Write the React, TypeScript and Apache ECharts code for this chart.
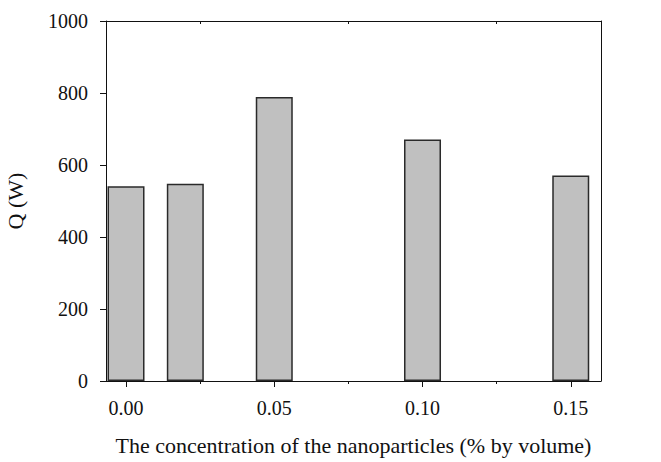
import React, { useEffect, useRef } from "react";
import * as echarts from "echarts";

const concentrations = [0.0, 0.02, 0.05, 0.1, 0.15];
const heatTransfer = [541, 548, 789, 671, 571];
const xLabelValues = [0, 0.05, 0.1, 0.15];
const xMinorTicks = [0.025, 0.075, 0.125];
const yTicks = [0, 200, 400, 600, 800, 1000];

const FONT = "'Liberation Serif', 'Times New Roman', serif";

export default function App() {
  const ref = useRef<HTMLDivElement>(null);
  useEffect(() => {
    if (!ref.current) return;
    const chart = echarts.init(ref.current, null, { renderer: "svg" });
    const xMin = -0.00675;
    const xMax = 0.1602;
    chart.setOption({
      animation: false,
      backgroundColor: "#ffffff",
      textStyle: { fontFamily: FONT },
      grid: {
        left: 106,
        right: 60,
        top: 21,
        bottom: 81,
        containLabel: false,
        outerBoundsMode: "none",
      },
      xAxis: [
        {
          type: "value",
          position: "bottom",
          min: xMin,
          max: xMax,
          name: "The concentration of the nanoparticles (% by volume)",
          nameLocation: "middle",
          nameGap: 53,
          nameTextStyle: { fontFamily: FONT, fontSize: 22, color: "#111" },
          axisLine: { show: true, onZero: false, lineStyle: { color: "#111", width: 1 } },
          axisTick: {
            show: true,
            inside: false,
            length: 6,
            customValues: xLabelValues,
            lineStyle: { color: "#111" },
          },
          axisLabel: {
            show: true,
            customValues: xLabelValues,
            formatter: (v: number) => v.toFixed(2),
            fontFamily: FONT,
            fontSize: 20,
            color: "#111",
            margin: 17,
          },
          splitLine: { show: false },
        },
        {
          type: "value",
          position: "bottom",
          min: xMin,
          max: xMax,
          axisLine: { show: false, onZero: false },
          axisTick: {
            show: true,
            inside: false,
            length: 3,
            customValues: xMinorTicks,
            lineStyle: { color: "#111" },
          },
          axisLabel: { show: false },
          splitLine: { show: false },
        },
        {
          type: "value",
          position: "top",
          min: xMin,
          max: xMax,
          axisLine: { show: true, onZero: false, lineStyle: { color: "#111", width: 1 } },
          axisTick: {
            show: true,
            inside: true,
            length: 3,
            customValues: xMinorTicks,
            lineStyle: { color: "#111" },
          },
          axisLabel: { show: false },
          splitLine: { show: false },
        },
      ],
      yAxis: [
        {
          type: "value",
          position: "left",
          min: 0,
          max: 1000,
          interval: 200,
          name: "Q (W)",
          nameLocation: "middle",
          nameGap: 80,
          nameTextStyle: { fontFamily: FONT, fontSize: 22, color: "#111" },
          axisLine: { show: true, onZero: false, lineStyle: { color: "#111", width: 1 } },
          axisTick: {
            show: true,
            inside: false,
            length: 6,
            customValues: yTicks,
            lineStyle: { color: "#111" },
          },
          axisLabel: {
            formatter: (v: number) => String(v),
            fontFamily: FONT,
            fontSize: 20,
            color: "#111",
            margin: 18,
          },
          splitLine: { show: false },
        },
        {
          type: "value",
          position: "right",
          min: 0,
          max: 1000,
          interval: 200,
          axisLine: { show: true, onZero: false, lineStyle: { color: "#111", width: 1 } },
          axisTick: { show: false },
          axisLabel: { show: false },
          splitLine: { show: false },
        },
      ],
      series: [
        {
          type: "bar",
          xAxisIndex: 0,
          yAxisIndex: 0,
          barWidth: 37,
          data: concentrations.map((c, i) => [c, heatTransfer[i]]),
          itemStyle: {
            color: "#c0c0c0",
            borderColor: "#2a2a2a",
            borderWidth: 1.5,
          },
        },
      ],
    });
    return () => chart.dispose();
  }, []);
  return (
    <div
      ref={ref}
      style={{ position: "fixed", left: 0, top: 0, width: 661, height: 462 }}
    />
  );
}
